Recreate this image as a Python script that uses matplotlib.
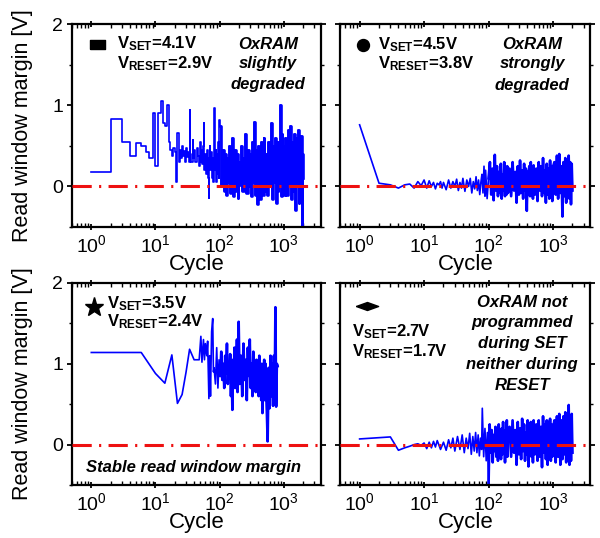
import matplotlib
matplotlib.use("Agg")
import matplotlib.pyplot as plt
import numpy as np
from matplotlib.ticker import LogLocator, NullFormatter

plt.rcParams["font.family"] = ["Liberation Sans", "DejaVu Sans"]
plt.rcParams["mathtext.fontset"] = "custom"
plt.rcParams["mathtext.rm"] = "Liberation Sans"
plt.rcParams["mathtext.bf"] = "Liberation Sans:bold"
plt.rcParams["mathtext.it"] = "Liberation Sans:italic"

# Cycle grid shared by the dense tail of the long-running cells.
LATE_CYCLES = [212, 224, 236, 248, 260, 272, 284, 296, 308, 320, 332, 344, 356,
               368, 380, 392, 404, 416, 428, 440, 452, 464, 476, 488, 500,
               525, 550, 575, 600, 625, 650, 675, 700, 725, 750, 775, 800, 825,
               850, 875, 900, 925, 950, 975, 1000,
               1050, 1100, 1150, 1200, 1250, 1300, 1350, 1400, 1450, 1500, 1550,
               1600, 1650, 1700, 1750, 1800, 1850, 1900, 1950, 2000]

# --- (square) VSET=4.1V / VRESET=2.9V ---------------------------------------
SQ_CYCLES = ([1, 2, 3, 4, 5, 6, 7, 8, 9, 10, 11, 12, 13, 14, 15,
              16, 17, 18, 19, 20, 21, 22, 23, 24, 25, 26, 27, 28, 29, 30, 31, 32, 33, 34, 35, 36,
              38, 39, 40, 42, 44, 46, 48, 50, 51, 52, 54, 56, 57, 58, 60, 62, 64, 66, 68, 69,
              70, 72, 74, 76, 78, 80, 81, 83, 85, 87, 89, 91, 93, 95, 97, 99,
              100, 105, 110, 115, 120, 125, 130, 135, 140, 145, 150, 155, 160, 165, 170,
              175, 180, 185, 190, 195, 200] + LATE_CYCLES)
SQ_MARGIN = [0.18, 0.83, 0.55, 0.38, 0.54, 0.50, 0.43, 0.35, 0.90, 0.25, 0.90, 1.05, 0.78, 0.75, 1.00,
             0.55, 0.45, 0.38, 0.48, 0.42, 0.05, 0.66, 0.30, 0.45, 0.35, 0.50, 0.38, 0.44, 0.30, 0.48,
             0.36, 0.42, 0.30, 0.94, 0.40, 0.30,
             0.57, 0.35, 0.45, 0.30, 0.48, 0.38, 0.25, 0.55, 0.30, 0.45, 0.28, 0.50, 0.78, 0.20,
             0.40, 0.15, 0.45, 0.10, -0.14, 0.35, 0.50, 0.20, 0.42, 0.10, 0.35, 0.05, 0.60, 0.97,
             0.20, 0.45, 0.05, 0.40, 0.15, 0.55, 0.10, 0.82,
             0.74, 0.00, 0.45, -0.05, 0.40, -0.10, 0.35, 0.05, 0.50, -0.08, 0.30, 0.60, -0.12,
             0.35, 0.00, 0.45, -0.05, 0.40, -0.14, 0.30, 0.02,
             0.50, -0.05, 0.35, 0.65, -0.08, 0.45, 0.00, 0.40, -0.12, 0.55, 0.05, 0.80, -0.10,
             0.45, -0.22, 0.50, 0.00, 0.40, -0.15, 0.55, 0.05, 0.45, -0.10, 0.60, -0.05,
             0.40, -0.10, 0.55, 0.00, 0.78, -0.15, 0.50, 0.05, 0.60, -0.20, 0.45, -0.05, 0.55,
             0.00, 1.00, -0.12, 0.65, -0.05, 0.50, -0.10,
             0.60, -0.10, 0.70, 0.00, 0.74, -0.15, 0.55, -0.05, 0.65, -0.29, 0.60, 0.00, 0.70,
             -0.20, 0.55, -0.10, 0.62, -0.47, 0.40, 0.10]

# --- (circle) VSET=4.5V / VRESET=3.8V ---------------------------------------
CI_CYCLES = ([1, 2, 3, 4, 5, 6, 7, 8, 9, 10, 11, 12, 13, 14, 15, 16, 17, 18, 19, 20,
              22, 24, 26, 28, 30, 32, 34, 36, 38, 40, 43, 46, 49, 52, 55, 58, 61, 64, 67,
              70, 73, 76, 79, 82, 85, 88,
              90, 95, 100, 105, 110, 115, 120, 125, 130, 135, 140, 145, 150, 155, 160,
              165, 170, 175, 180, 185, 190, 195, 200] + LATE_CYCLES)
CI_MARGIN = [0.76, 0.04, 0.02, -0.02, 0.02, 0.03, -0.02, 0.06, 0.01, 0.08, -0.02, 0.07, 0.00,
             0.05, -0.03, 0.04, 0.02, 0.06, -0.02, 0.05,
             -0.04, 0.08, -0.02, 0.06, 0.00, 0.09, -0.05, 0.05, -0.02, 0.10, -0.06, 0.08, 0.00,
             0.10, -0.08, 0.06, -0.03, 0.12, -0.05, 0.08, -0.10, 0.05, 0.15, -0.08, 0.25, -0.12,
             0.20, -0.15, 0.10, 0.30, -0.10, 0.22, -0.17, 0.39, -0.05, 0.25, -0.12, 0.18, -0.08,
             0.28, -0.15, 0.15, -0.05, 0.30, -0.12, 0.20, -0.10, 0.25, -0.08,
             0.22, -0.12, 0.30, -0.05, 0.18, -0.20, 0.25, -0.10, 0.32, -0.08, 0.20, -0.15, 0.28,
             -0.05, 0.22, -0.30, 0.18, -0.10, 0.25, -0.12, 0.30, -0.08, 0.20, -0.15, 0.26,
             -0.10, 0.22, -0.18, 0.30, -0.05, 0.25, -0.12, 0.35, -0.08, 0.20, -0.20, 0.28, -0.10,
             0.22, -0.15, 0.32, -0.05, 0.25, -0.18, 0.24,
             0.30, -0.10, 0.38, -0.15, 0.40, -0.08, 0.25, -0.37, 0.30, -0.12, 0.35, -0.20, 0.28,
             -0.10, 0.38, -0.15, 0.30, -0.22, 0.28, -0.05]

# --- (star) VSET=3.5V / VRESET=2.4V -----------------------------------------
ST_CYCLES = [1, 6, 10, 14, 18, 22, 26, 30, 34, 40, 48, 51, 53, 56, 58, 60, 63, 65, 68, 70,
             72, 75, 78, 80,
             82, 86, 90, 94, 98, 102, 106, 110, 114, 118, 122, 126, 130, 134, 138, 142, 146,
             150, 154, 158, 162, 166, 170, 174, 178, 182, 186, 190, 194, 198,
             205, 215, 225, 235, 245, 255, 265, 275, 285, 295, 305, 315, 325, 335, 345, 355,
             365, 375, 385, 395, 405, 415, 425, 435, 445, 455, 465, 475, 485, 495, 505,
             520, 540, 560, 580, 600, 620, 640, 660, 680, 700, 720, 740, 760, 780, 800]
ST_MARGIN = [1.14, 1.14, 0.88, 0.76, 1.11, 0.51, 0.62, 0.90, 1.18, 1.05, 1.05, 1.34, 1.02,
             1.30, 1.05, 1.25, 1.10, 1.28, 0.57, 1.10, 0.60, 1.40, 1.56, 0.90,
             0.95, 0.75, 1.20, 0.70, 1.05, 0.85, 1.15, 0.80, 1.00, 0.70, 1.10, 0.88, 1.25,
             0.75, 1.00, 0.82, 1.12, 0.60, 0.95, 0.43, 1.05, 0.80, 1.20, 0.70, 1.00, 0.85,
             1.30, 0.65, 1.10, 1.52,
             0.75, 1.10, 0.60, 1.25, 0.80, 1.05, 0.55, 1.20, 0.85, 1.30, 0.70, 1.00, 0.60,
             1.15, 0.80, 0.95, 0.65, 1.05, 0.70, 0.90, 0.60, 1.10, 0.75, 0.95, 0.55, 1.00,
             0.39, 0.90, 0.65, 1.05, 0.55,
             1.00, 0.50, 0.04, 0.95, 0.45, 1.10, 0.60, 1.00, 0.48, 1.10, 0.55, 1.70, 0.47,
             1.00, 0.97]

# --- (diamond) VSET=2.7V / VRESET=1.7V --------------------------------------
DI_CYCLES = ([1, 3, 4, 5, 6, 7, 8, 9, 10, 11, 12, 13, 14, 15, 16, 18, 20, 22, 24, 26, 28, 30,
              33, 36, 39, 42, 45, 48, 51, 54, 57, 60, 63, 66, 69, 72, 75, 78,
              80, 84, 88, 92, 96, 100, 104, 108, 112, 116, 120, 124, 128, 132, 136, 140,
              144, 148, 152, 156, 160, 164, 168, 172, 176, 180, 184, 188, 192, 196, 200]
             + LATE_CYCLES)
DI_MARGIN = [0.07, 0.095, -0.07, -0.04, -0.02, 0.00, 0.01, -0.01, 0.02, -0.05, 0.03, -0.04,
             0.04, -0.03, 0.05, -0.06, 0.03, -0.07, 0.06, -0.04, 0.08, -0.08,
             0.10, -0.06, 0.12, -0.10, 0.08, -0.05, 0.14, -0.12, 0.10, -0.08, 0.15, -0.10,
             0.12, -0.14, 0.08, -0.06,
             0.45, -0.15, 0.20, -0.20, 0.15, -0.50, 0.25, -0.10, 0.18, -0.22, 0.12, -0.08,
             0.22, -0.15, 0.10, -0.20, 0.25, -0.10, 0.15, -0.18, 0.20, -0.12, 0.28, -0.08,
             0.15, -0.22, 0.18, -0.10, 0.30, -0.15, 0.12,
             0.22, -0.15, 0.30, -0.10, 0.18, -0.25, 0.28, -0.12, 0.20, -0.18, 0.32, -0.08,
             0.25, -0.20, 0.15, -0.12, 0.30, -0.27, 0.22, -0.10, 0.28, -0.15, 0.20, -0.22, 0.30,
             -0.12, 0.25, -0.20, 0.30, -0.15, 0.22, -0.28, 0.35, -0.10, 0.25, -0.18, 0.30,
             -0.25, 0.28, -0.12, 0.32, -0.20, 0.25, -0.15, 0.20,
             0.30, -0.22, 0.35, -0.15, 0.38, -0.25, 0.30, -0.18, 0.35, -0.12, 0.40, -0.22,
             0.32, -0.15, 0.49, -0.25, 0.35, -0.20, 0.38, -0.10]

BLUE = "#0000ff"
RED = "#ee1111"
FS_TICK = 14
FS_NOTE = 12
LW = 1.2
LW_DENSE = 1.9     # the real traces are one point per cycle, so the tail reads as a solid band
DENSE_FROM = 100


def trace(ax, cycles, margin, **kw):
    cycles = np.asarray(cycles)
    margin = np.asarray(margin)
    ax.plot(cycles, margin, color=BLUE, lw=LW, **kw)
    tail = cycles >= DENSE_FROM
    ax.plot(cycles[tail], margin[tail], color=BLUE, lw=LW_DENSE, **kw)


def style_axis(ax, show_ylabels):
    ax.set_xscale("log")
    ax.set_xlim(0.5, 3800)
    ax.set_ylim(-0.5, 2)
    ax.xaxis.set_major_locator(LogLocator(base=10, numticks=10))
    ax.xaxis.set_minor_locator(LogLocator(base=10, subs=range(2, 10), numticks=20))
    ax.xaxis.set_minor_formatter(NullFormatter())
    ax.set_yticks([0, 1, 2])
    ax.set_yticks([-0.5, 0.5, 1.5], minor=True)
    for s in ax.spines.values():
        s.set_linewidth(1.6)
    ax.tick_params(axis="x", which="major", direction="inout", length=5, width=1.3,
                   top=True, labelsize=FS_TICK, pad=2.5)
    ax.tick_params(axis="x", which="minor", direction="in", length=3, width=1.0, top=True)
    ax.tick_params(axis="y", which="major", direction="out", length=3.5, width=1.3,
                   right=True, labelsize=FS_TICK, pad=3)
    ax.tick_params(axis="y", which="minor", direction="out", length=2.5, width=1.0, right=True)
    if show_ylabels:
        ax.set_yticklabels(["0", "1", "2"])
        ax.set_ylabel("Read window margin [V]", fontsize=15.5)
        ax.yaxis.set_label_coords(-0.155, 0.5)
    else:
        ax.set_yticklabels([])
    ax.set_xlabel("Cycle", fontsize=16)
    ax.xaxis.set_label_coords(0.5, -0.135)
    ax.axhline(0, color=RED, lw=2.2, linestyle=(0, (6.3, 2.4, 0.7, 2.4)), zorder=3)


def notes(ax, vset, vreset, x, y_set, y_reset):
    ax.text(x, y_set, r"$\mathbf{V_{SET}}$=" + vset, transform=ax.transAxes,
            fontsize=FS_NOTE, fontweight="bold", va="baseline", ha="left")
    ax.text(x, y_reset, r"$\mathbf{V_{RESET}}$=" + vreset, transform=ax.transAxes,
            fontsize=FS_NOTE, fontweight="bold", va="baseline", ha="left")


def side_text(ax, lines, x, ys):
    for line, y in zip(lines, ys):
        ax.text(x, y, line, transform=ax.transAxes, fontsize=FS_NOTE, fontweight="bold",
                fontstyle="italic", ha="center", va="baseline")


fig = plt.figure(figsize=(6, 5.38), dpi=100)
ax1 = fig.add_axes([0.120, 0.578, 0.415, 0.377])
ax2 = fig.add_axes([0.567, 0.578, 0.417, 0.377])
ax3 = fig.add_axes([0.120, 0.0985, 0.415, 0.3755])
ax4 = fig.add_axes([0.567, 0.0985, 0.417, 0.3755])

trace(ax1, SQ_CYCLES, SQ_MARGIN, drawstyle="steps-post")
trace(ax2, CI_CYCLES, CI_MARGIN)
trace(ax3, ST_CYCLES, ST_MARGIN)
trace(ax4, DI_CYCLES, DI_MARGIN)

style_axis(ax1, True)
style_axis(ax2, False)
style_axis(ax3, True)
style_axis(ax4, False)

rect = [(-1, -0.6), (1, -0.6), (1, 0.6), (-1, 0.6), (-1, -0.6)]
flat_diamond = [(-1, 0), (0, 0.36), (1, 0), (0, -0.36), (-1, 0)]
ax1.plot([0.099], [0.903], marker=rect, ms=10.8, color="black", ls="none",
         transform=ax1.transAxes)
ax2.plot([0.092], [0.899], marker="o", ms=8.6, color="black", ls="none",
         transform=ax2.transAxes)
ax3.plot([0.088], [0.881], marker="*", ms=14, color="black", ls="none",
         transform=ax3.transAxes)
ax4.plot([0.107], [0.888], marker=flat_diamond, ms=16, color="black", ls="none",
         transform=ax4.transAxes)

notes(ax1, "4.1V", "2.9V", 0.18, 0.880, 0.785)
notes(ax2, "4.5V", "3.8V", 0.151, 0.877, 0.782)
notes(ax3, "3.5V", "2.4V", 0.142, 0.875, 0.784)
notes(ax4, "2.7V", "1.7V", 0.047, 0.738, 0.639)

side_text(ax1, ["OxRAM", "slightly", "degraded"], 0.787, [0.880, 0.782, 0.683])
side_text(ax2, ["OxRAM", "strongly", "degraded"], 0.767, [0.877, 0.782, 0.678])
side_text(ax4, ["OxRAM not", "programmed", "during SET", "neither during", "RESET"], 0.727,
          [0.880, 0.784, 0.677, 0.573, 0.470])
ax3.text(0.056, 0.066, "Stable read window margin", transform=ax3.transAxes,
         fontsize=FS_NOTE, fontweight="bold", fontstyle="italic", ha="left", va="baseline")

fig.savefig("out.png", dpi=100)
